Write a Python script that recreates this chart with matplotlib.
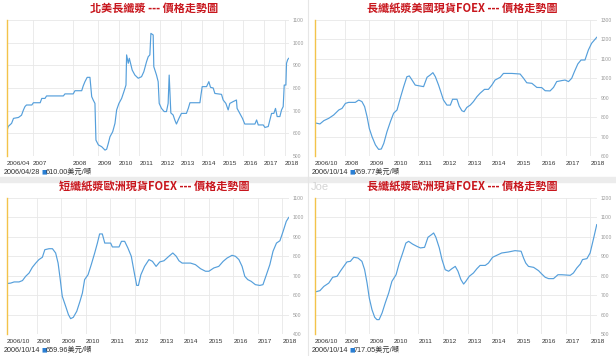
import matplotlib
matplotlib.use('Agg')
import matplotlib.pyplot as plt
import numpy as np

plt.rcParams['font.family'] = ['Liberation Sans', 'Noto Sans CJK TC']

# === data ===
# 1) 北美長纖漿
na_years = [2006.32, 2006.35, 2006.44, 2006.49, 2006.62, 2006.70, 2006.75, 2006.79, 2006.83, 2006.97,
            2007.01, 2007.18, 2007.22, 2007.30, 2007.34, 2007.76, 2007.80, 2008.01, 2008.08, 2008.35,
            2008.41, 2008.48, 2008.57, 2008.68, 2008.75, 2008.81, 2008.88, 2008.92, 2009.02, 2009.18,
            2009.34, 2009.42, 2009.50, 2009.58, 2009.71, 2009.82, 2009.90, 2010.01, 2010.14, 2010.25,
            2010.35, 2010.38, 2010.46, 2010.51, 2010.57, 2010.65, 2010.78, 2010.94, 2011.10, 2011.21,
            2011.34, 2011.42, 2011.50, 2011.55, 2011.66, 2011.69, 2011.82, 2011.90, 2011.95, 2012.06,
            2012.19, 2012.30, 2012.38, 2012.43, 2012.51, 2012.62, 2012.70, 2012.78, 2012.90, 2013.02,
            2013.26, 2013.35, 2013.43, 2013.91, 2013.96, 2014.02, 2014.23, 2014.34, 2014.42, 2014.55,
            2014.63, 2014.95, 2015.03, 2015.16, 2015.27, 2015.35, 2015.51, 2015.67, 2015.70, 2015.83,
            2015.96, 2016.07, 2016.56, 2016.64, 2016.72, 2016.96, 2017.04, 2017.20, 2017.28, 2017.36,
            2017.47, 2017.55, 2017.63, 2017.76, 2017.84, 2017.92, 2017.97, 2018.05, 2018.08, 2018.14,
            2018.19]
na_price = [610, 630, 644, 666, 670, 680, 703, 718, 725, 725,
            735, 735, 754, 754, 765, 765, 774, 774, 788, 788,
            809, 828, 847, 847, 762, 747, 732, 570, 549, 541,
            526, 530, 556, 585, 607, 644, 703, 732, 754, 784,
            813, 946, 909, 931, 909, 879, 857, 843, 850, 872,
            916, 938, 946, 1041, 1034, 894, 857, 828, 732, 710,
            696, 696, 732, 857, 690, 681, 659, 641, 666, 688,
            688, 710, 735, 735, 769, 806, 806, 828, 803, 800,
            776, 772, 747, 732, 703, 732, 740, 747, 710, 688,
            666, 641, 641, 659, 637, 637, 626, 630, 659, 688,
            688, 710, 674, 674, 703, 718, 813, 813, 909, 926,
            931]

# 2) 長纖紙漿美國現貨FOEX
us_years = [2006.81, 2006.99, 2007.15, 2007.35, 2007.55, 2007.76, 2007.89, 2008.03, 2008.16, 2008.43,
            2008.57, 2008.70, 2008.81, 2008.91, 2009.00, 2009.11, 2009.25, 2009.38, 2009.49, 2009.59,
            2009.72, 2009.86, 2009.99, 2010.13, 2010.26, 2010.40, 2010.53, 2010.63, 2010.74, 2010.87,
            2011.08, 2011.21, 2011.35, 2011.48, 2011.59, 2011.69, 2011.82, 2011.93, 2012.02, 2012.16,
            2012.30, 2012.39, 2012.57, 2012.66, 2012.77, 2012.86, 2012.97, 2013.11, 2013.24, 2013.38,
            2013.51, 2013.69, 2013.85, 2013.99, 2014.12, 2014.33, 2014.46, 2014.80, 2015.14, 2015.28,
            2015.41, 2015.62, 2015.82, 2016.02, 2016.16, 2016.36, 2016.50, 2016.63, 2016.83, 2016.97,
            2017.11, 2017.24, 2017.35, 2017.49, 2017.62, 2017.78, 2017.92, 2018.05, 2018.26]
us_price = [770, 765, 782, 794, 811, 837, 845, 871, 876, 876,
            888, 880, 854, 802, 742, 700, 657, 634, 636, 665,
            725, 777, 820, 837, 897, 957, 1008, 1012, 991, 965,
            960, 957, 1005, 1017, 1029, 1008, 965, 923, 888, 862,
            862, 892, 892, 857, 833, 828, 850, 862, 880, 905,
            923, 943, 943, 965, 991, 1005, 1025, 1025, 1022, 1000,
            977, 974, 953, 952, 936, 935, 953, 983, 988, 991,
            983, 1000, 1034, 1074, 1094, 1094, 1146, 1180, 1211]

# 3) 短纖紙漿歐洲現貨FOEX
euh_years = [2006.81, 2006.94, 2007.08, 2007.28, 2007.42, 2007.55, 2007.69, 2007.82, 2007.96, 2008.09,
             2008.23, 2008.33, 2008.50, 2008.64, 2008.77, 2008.87, 2008.95, 2009.04, 2009.18, 2009.29,
             2009.38, 2009.49, 2009.63, 2009.76, 2009.86, 2009.95, 2010.09, 2010.22, 2010.36, 2010.47,
             2010.56, 2010.67, 2010.77, 2011.01, 2011.08, 2011.35, 2011.45, 2011.58, 2011.71, 2011.85,
             2011.96, 2012.07, 2012.14, 2012.24, 2012.39, 2012.57, 2012.71, 2012.86, 2013.01, 2013.18,
             2013.38, 2013.54, 2013.68, 2013.79, 2013.92, 2014.26, 2014.46, 2014.67, 2014.87, 2015.01,
             2015.21, 2015.41, 2015.59, 2015.75, 2015.95, 2016.09, 2016.23, 2016.36, 2016.47, 2016.59,
             2016.73, 2016.90, 2017.08, 2017.21, 2017.35, 2017.49, 2017.62, 2017.76, 2017.90, 2018.03,
             2018.16, 2018.26]
euh_price = [660, 662, 668, 668, 675, 697, 714, 743, 765, 783,
             795, 834, 839, 839, 817, 765, 688, 594, 542, 500,
             479, 486, 517, 568, 611, 680, 705, 757, 817, 868,
             915, 915, 868, 868, 848, 848, 877, 877, 843, 800,
             723, 650, 650, 705, 748, 783, 774, 748, 771, 777,
             800, 817, 800, 777, 765, 765, 757, 736, 723, 723,
             740, 748, 774, 791, 805, 800, 783, 748, 697, 680,
             671, 654, 650, 654, 705, 757, 826, 868, 880, 928,
             980, 1000]

# 4) 長纖紙漿歐洲現貨FOEX
eul_years = [2006.81, 2006.99, 2007.15, 2007.35, 2007.51, 2007.69, 2007.82, 2007.96, 2008.09, 2008.23,
             2008.37, 2008.54, 2008.70, 2008.81, 2008.91, 2009.00, 2009.11, 2009.22, 2009.31, 2009.40,
             2009.52, 2009.65, 2009.79, 2009.92, 2010.09, 2010.22, 2010.36, 2010.49, 2010.60, 2010.76,
             2010.94, 2011.08, 2011.25, 2011.39, 2011.53, 2011.62, 2011.71, 2011.85, 2011.96, 2012.09,
             2012.23, 2012.36, 2012.50, 2012.61, 2012.73, 2012.84, 2012.93, 2013.07, 2013.24, 2013.38,
             2013.51, 2013.72, 2013.85, 2014.02, 2014.19, 2014.39, 2014.66, 2014.93, 2015.18, 2015.28,
             2015.37, 2015.48, 2015.69, 2015.89, 2016.02, 2016.16, 2016.30, 2016.50, 2016.68, 2016.84,
             2017.18, 2017.31, 2017.45, 2017.59, 2017.68, 2017.86, 2017.99, 2018.12, 2018.26]
eul_price = [717, 723, 745, 762, 792, 797, 823, 848, 871, 874,
             895, 891, 874, 831, 762, 685, 625, 586, 574, 574,
             608, 660, 711, 771, 805, 865, 917, 968, 977, 963,
             951, 943, 946, 998, 1011, 1020, 998, 943, 883, 831,
             823, 836, 848, 823, 780, 757, 771, 797, 814, 836,
             853, 853, 865, 895, 905, 917, 922, 929, 926, 891,
             865, 848, 843, 826, 809, 792, 785, 785, 805, 805,
             802, 814, 840, 860, 883, 888, 917, 986, 1063]

titles = ['北美長纖漿 --- 價格走勢圖', '長纖紙漿美國現貨FOEX --- 價格走勢圖',
          '短纖紙漿歐洲現貨FOEX --- 價格走勢圖', '長纖紙漿歐洲現貨FOEX --- 價格走勢圖']
footer_dates = ['2006/04/28', '2006/10/14', '2006/10/14', '2006/10/14']
footer_values = ['610.00美元/噸', '769.77美元/噸', '659.96美元/噸', '717.05美元/噸']
y_ranges = [(500, 1100), (600, 1300), (400, 1100), (500, 1200)]

na_ticks = [2006.32] + list(range(2007, 2019))
na_labels = ['2006/04'] + [str(y) for y in range(2007, 2019)]
foex_ticks = [2006.79] + list(range(2008, 2019))
foex_labels = ['2006/10'] + [str(y) for y in range(2008, 2019)]

# first chart has an uneven time axis (early years squeezed)
warp_years = [2005.32, 2006.32, 2007.0, 2008.0, 2009.0, 2019.0]
warp_pos = [-26.0, 0.0, 26.0, 66.0, 91.0, 298.8]


def warp_fwd(x):
    return np.interp(x, warp_years, warp_pos)


def warp_inv(p):
    return np.interp(p, warp_pos, warp_years)


# === draw ===
W, H = 616, 356
fig = plt.figure(figsize=(W / 100, H / 100), dpi=100)
fig.patch.set_facecolor('white')

line_color = '#559fdb'
grid_color = '#e8e8e8'

series = [(na_years, na_price), (us_years, us_price), (euh_years, euh_price), (eul_years, eul_price)]
origins = [(0, 0), (308, 0), (0, 178), (308, 178)]

for i, ((xs, ys), (ox, oy)) in enumerate(zip(series, origins)):
    left, top, w, h = ox + 7, oy + 20, 282, 136
    ax = fig.add_axes([left / W, 1 - (top + h) / H, w / W, h / H])
    ax.plot(xs, ys, color=line_color, linewidth=0.85)

    if i == 0:
        ax.set_xscale('function', functions=(warp_fwd, warp_inv))
        ax.set_xlim(2006.32, 2018.2)
        ax.set_xticks(na_ticks)
        ax.set_xticklabels(na_labels)
    else:
        ax.set_xlim(2006.79, 2018.27)
        ax.set_xticks(foex_ticks)
        ax.set_xticklabels(foex_labels)
    ax.xaxis.set_minor_locator(matplotlib.ticker.NullLocator())

    lo, hi = y_ranges[i]
    ax.set_ylim(lo, hi)
    ax.set_yticks(np.arange(lo, hi + 1, 100))
    ax.yaxis.tick_right()

    ax.grid(True, color=grid_color, linewidth=0.6)
    ax.set_axisbelow(True)
    for side in ['top', 'right', 'bottom']:
        ax.spines[side].set_visible(False)
    ax.spines['left'].set_color('#f3c34a')
    ax.spines['left'].set_linewidth(1.0)

    ax.tick_params(axis='x', length=0, pad=3.5, labelsize=4.6, labelcolor='#333333')
    ax.tick_params(axis='y', length=0, pad=2.5, labelsize=3.6, labelcolor='#999999')
    for lab in ax.get_xticklabels():
        lab.set_ha('left')

    # title
    fig.text((ox + 154) / W, 1 - (oy + 8) / H, titles[i], ha='center', va='center',
             fontsize=8, fontweight='bold', color='#c8161d', family='Noto Sans CJK TC')
    # footer
    fy = 1 - (oy + 172) / H
    fig.text((ox + 4) / W, fy, footer_dates[i], ha='left', va='center', fontsize=5.2, color='#333333')
    fig.text((ox + 41.5) / W, fy, '■', ha='left', va='center', fontsize=4.2, color='#2a7fd4',
             family='DejaVu Sans')
    fig.text((ox + 46) / W, fy, footer_values[i], ha='left', va='center', fontsize=5.2, color='#333333')

# panel separators
fig.add_artist(plt.Rectangle((0, 1 - 182 / H), 1, 5 / H, transform=fig.transFigure,
                             color='#ececec', zorder=0))
fig.add_artist(plt.Line2D([308 / W, 308 / W], [0, 1], transform=fig.transFigure,
                          color='#e6e6e6', linewidth=0.8, zorder=0))

# watermark
fig.text(311 / W, 1 - 187 / H, 'Joe', ha='left', va='center', fontsize=8, color='#d4d4d4')

plt.savefig('out.png', dpi=100)
